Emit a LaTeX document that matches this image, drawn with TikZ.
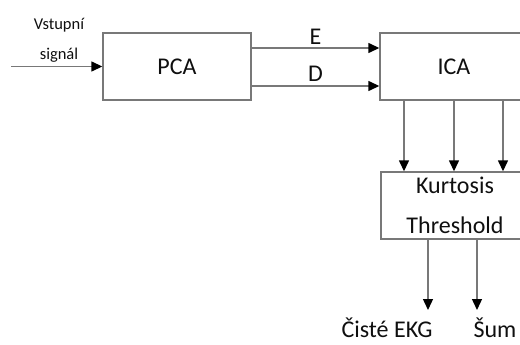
\documentclass[tikz,border=0pt]{standalone}
\usepackage{fontspec}
\setmainfont{Carlito}
\usetikzlibrary{arrows.meta}
\definecolor{linegray}{RGB}{120,120,120}
\definecolor{txt}{RGB}{15,15,15}
\begin{document}
\begin{tikzpicture}[x=1pt,y=-1pt,
  line/.style={draw=linegray, line width=1.4pt},
  arr/.style={line, -{Triangle[length=11pt,width=10pt,black]}},
  box/.style={draw=linegray, line width=1.4pt, minimum width=148pt, minimum height=67pt, inner sep=0pt, text=txt, font=\fontsize{24}{40}\selectfont},
  lbl/.style={font=\fontsize{24}{28}\selectfont, inner sep=0pt, text=txt},
  small/.style={font=\fontsize{16.5}{30}\selectfont, inner sep=0pt, text=txt, align=center}]
\useasboundingbox (0,0) rectangle (520,345);
\clip (0,0) rectangle (520,345);
\node[box] (pca) at (177,66.5) {PCA};
\node[box] (ica) at (454,66.5) {ICA};
\node[box, align=center] (kt) at (455,205.5) {Kurtosis\\Threshold};
\node[small] (inlbl) at (59,40) {Vstupní\\signál};
\coordinate (in) at (11,66.5);
\draw[arr] (in) -- (pca.west);
\draw[arr] ([yshift=18.5pt]pca.east) -- ([yshift=18.5pt]ica.west) node[lbl, midway, above=3pt] (e) {E};
\draw[arr] ([yshift=-19.5pt]pca.east) -- ([yshift=-19.5pt]ica.west) node[lbl, midway, above=4pt] (d) {D};
\foreach \dx in {-50,0,49}{
  \draw[arr] ([xshift=\dx pt]ica.south) -- ([xshift=\dx pt]ica.south |- kt.north);
}
\coordinate (o1) at (428,310);
\coordinate (o2) at (477,310);
\draw[arr] (kt.south -| o1) -- (o1);
\draw[arr] (kt.south -| o2) -- (o2);
\node[lbl, anchor=base] (cekg) at (387,337) {Čisté EKG};
\node[lbl, anchor=base] (sum) at (495,337) {Šum};
\end{tikzpicture}
\end{document}
